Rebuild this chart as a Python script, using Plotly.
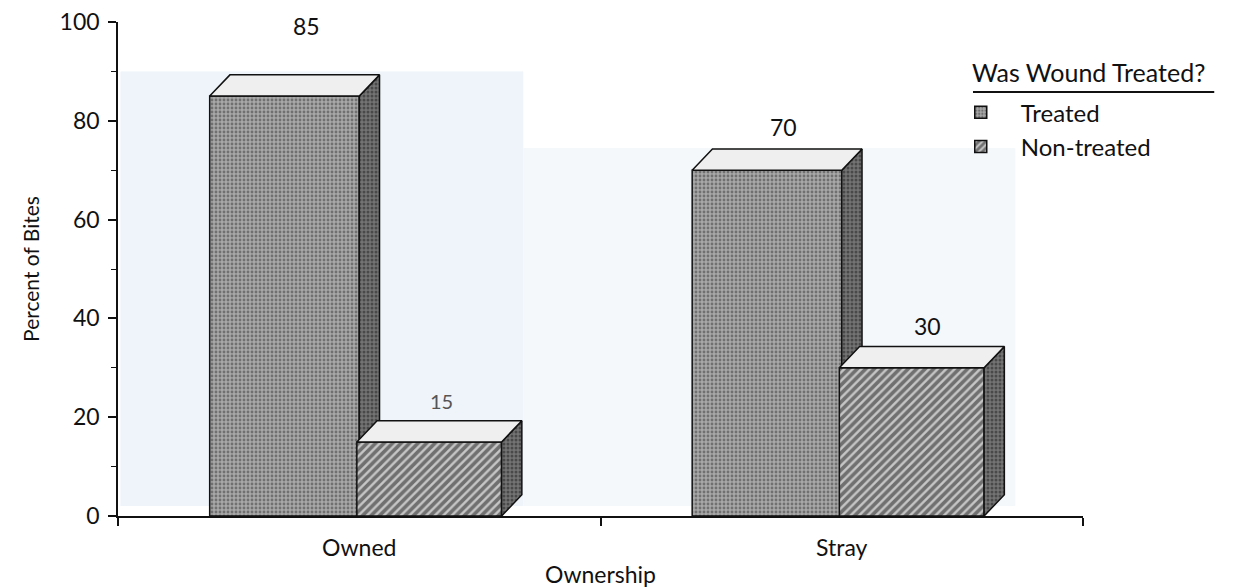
import plotly.graph_objects as go

# ---- data ----
categories = ["Owned", "Stray"]
treated = [85, 70]
non_treated = [15, 30]
series_names = ["Treated", "Non-treated"]
legend_title = "Was Wound Treated?"
y_ticks = [0, 20, 40, 60, 80, 100]

# ---- style ----
FONT = "Lato"
cat_pos = [0.5, 1.5]
bar_w = [0.31, 0.30]
bar_off = [-0.31, -0.005]
DX, DY = 0.042, 4.3
label_shift = [[33, 6], [6, 5]]  # px above top face, per series per category
label_xshift = [[12, 6], [2, 6]]
label_font = [[23, 23], [20, 23]]
label_color = [["#111", "#111"], ["#555", "#111"]]

front_pat = [
    dict(shape=".", bgcolor="#a8a8a8", fgcolor="#383838", size=4, solidity=0.4),
    dict(shape="/", bgcolor="#c6c6c6", fgcolor="#1a1a1a", size=6, solidity=0.6),
]
side_pat = dict(shape=".", bgcolor="#747474", fgcolor="#1e1e1e", size=4, solidity=0.45)

fig = go.Figure()

series = [treated, non_treated]
for s, vals in enumerate(series):
    fig.add_trace(go.Bar(
        x=cat_pos, y=vals, name=series_names[s],
        width=bar_w[s], offset=bar_off[s],
        marker=dict(color=front_pat[s]["bgcolor"], pattern=front_pat[s],
                    line=dict(color="#111", width=1.5)),
        hoverinfo="y",
    ))

annotations = []
for s, vals in enumerate(series):
    for c, v in enumerate(vals):
        xl = cat_pos[c] + bar_off[s]
        xr = xl + bar_w[s]
        bottom = 0
        if s + 1 < len(series):
            bottom = min(series[s + 1][c], v)
        # side face
        fig.add_trace(go.Scatter(
            x=[xr, xr + DX, xr + DX, xr, xr],
            y=[bottom, bottom + DY, v + DY, v, bottom],
            mode="lines", fill="toself", fillcolor="#747474",
            fillpattern=side_pat,
            line=dict(color="#111", width=1.5),
            showlegend=False, hoverinfo="skip"))
        # top face
        fig.add_trace(go.Scatter(
            x=[xl, xl + DX, xr + DX, xr, xl],
            y=[v, v + DY, v + DY, v, v],
            mode="lines", fill="toself", fillcolor="#efefef",
            line=dict(color="#111", width=1.5),
            showlegend=False, hoverinfo="skip"))
        annotations.append(dict(
            x=(xl + xr) / 2 + DX / 2, y=v + DY, xref="x", yref="y",
            text=str(v), showarrow=False, yanchor="bottom",
            yshift=label_shift[s][c], xshift=label_xshift[s][c],
            font=dict(family=FONT, size=label_font[s][c], color=label_color[s][c])))

# legend title as text with a rule beneath
annotations.append(dict(
    x=0.8827, y=1.0 - 50 / 494, xref="paper", yref="paper",
    xanchor="left", yanchor="middle", showarrow=False,
    text=legend_title, font=dict(family=FONT, size=25, color="#111")))

# page body adds an 8px offset, so the figure is sized 8px smaller on each side
fig.update_layout(
    width=1228, height=580,
    margin=dict(l=110, r=153, t=14, b=72, autoexpand=False),
    paper_bgcolor="white", plot_bgcolor="white",
    font=dict(family=FONT, size=23, color="#111"),
    showlegend=True,
    legend=dict(
        x=0.8526, y=0.862, xanchor="left", yanchor="top",
        font=dict(family=FONT, size=24), itemwidth=70,
        bgcolor="rgba(0,0,0,0)",
    ),
    annotations=annotations,
    shapes=[
        dict(type="rect", xref="x", yref="y", x0=0.005, x1=0.84, y0=2, y1=90,
             fillcolor="#eef4fa", line=dict(width=0), layer="below"),
        dict(type="rect", xref="x", yref="y", x0=0.84, x1=1.86, y0=2, y1=74.5,
             fillcolor="#f4f8fb", line=dict(width=0), layer="below"),
        dict(type="line", xref="paper", yref="paper", x0=0.886, x1=1.136,
             y0=424 / 494, y1=424 / 494, line=dict(color="#111", width=2)),
    ],
)

fig.update_xaxes(
    range=[0, 2], tickvals=cat_pos, ticktext=categories, ticks="",
    showline=True, linecolor="#111", linewidth=1.5, showgrid=False, zeroline=False,
    minor=dict(tick0=0, dtick=1, ticks="outside", ticklen=8, tickcolor="#111", tickwidth=1.5),
    title=dict(text="Ownership", standoff=9, font=dict(family=FONT, size=23)),
    tickfont=dict(family=FONT, size=23), ticklabelstandoff=11,
)
fig.update_yaxes(
    range=[0, 100], tickvals=y_ticks, ticks="outside", ticklen=8,
    tickcolor="#111", tickwidth=1.5, ticklabeloverflow="allow",
    showline=True, linecolor="#111", linewidth=1.5, showgrid=False, zeroline=False,
    minor=dict(tick0=0, dtick=10, ticks="outside", ticklen=5, tickcolor="#111", tickwidth=1.2),
    title=dict(text="Percent of Bites", standoff=14, font=dict(family=FONT, size=21)),
    tickfont=dict(family=FONT, size=23), ticklabelstandoff=4,
)

fig.write_html("out.html")
